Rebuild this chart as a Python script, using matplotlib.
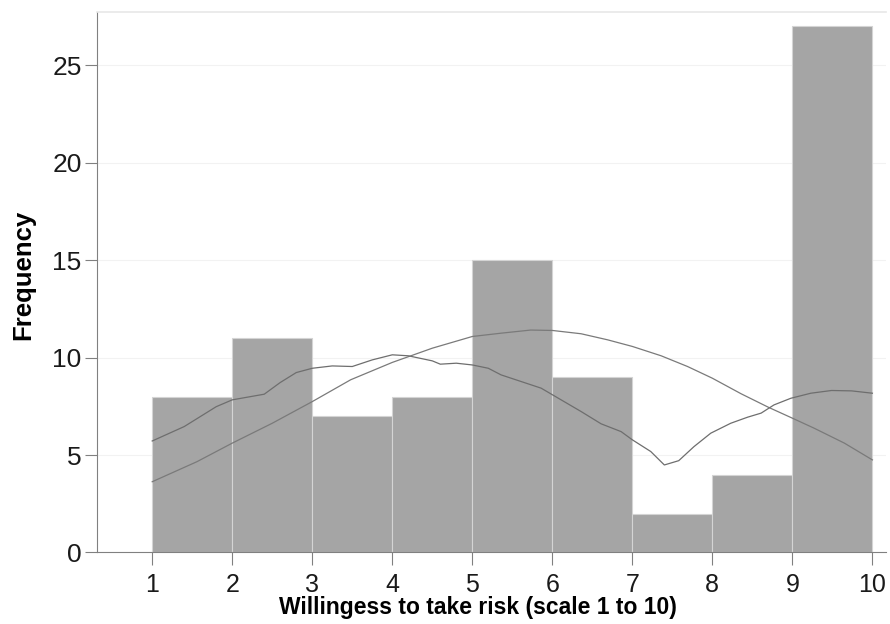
import matplotlib
matplotlib.use("Agg")
import matplotlib.pyplot as plt

plt.rcParams['font.family'] = ['Liberation Sans', 'DejaVu Sans']

# histogram of willingness scores (bin edges 1..10, width 1)
bin_edges = [1, 2, 3, 4, 5, 6, 7, 8, 9, 10]
counts = [8, 11, 7, 8, 15, 9, 2, 4, 27]

# normal density overlay
normal_x = [1.0, 1.56, 2.0, 2.5, 3.0, 3.48, 4.0, 4.5, 5.0, 5.36, 5.73, 6.0,
            6.36, 6.69, 7.0, 7.36, 7.69, 8.0, 8.36, 8.7, 9.0, 9.27, 9.65, 10.0]
normal_y = [3.63, 4.66, 5.61, 6.63, 7.74, 8.86, 9.75, 10.48, 11.08, 11.25, 11.41, 11.39,
            11.22, 10.91, 10.57, 10.09, 9.54, 8.94, 8.14, 7.45, 6.89, 6.38, 5.61, 4.75]

# kernel density overlay
kernel_x = [1.0, 1.4, 1.8, 2.0, 2.4, 2.6, 2.8, 3.0, 3.25, 3.5, 3.75, 4.0, 4.2, 4.5,
            4.6, 4.8, 5.0, 5.2, 5.36, 5.61, 5.86, 6.11, 6.36, 6.61, 6.86, 7.0, 7.23,
            7.4, 7.58, 7.77, 7.98, 8.23, 8.44, 8.61, 8.77, 8.98, 9.23, 9.49, 9.74, 10.0]
kernel_y = [5.72, 6.46, 7.48, 7.83, 8.12, 8.72, 9.23, 9.45, 9.57, 9.54, 9.88, 10.14, 10.09, 9.83,
            9.66, 9.71, 9.62, 9.45, 9.11, 8.77, 8.43, 7.83, 7.23, 6.60, 6.20, 5.78, 5.18,
            4.49, 4.71, 5.43, 6.12, 6.63, 6.94, 7.15, 7.57, 7.91, 8.17, 8.31, 8.29, 8.17]

yticks = [0, 5, 10, 15, 20, 25]

fig = plt.figure(figsize=(8.9, 6.24), dpi=100)
ax = fig.add_axes([0.109, 0.1146, 0.8865, 0.866])

ax.bar(bin_edges[:-1], counts, width=1, align='edge', color='#a5a5a5',
       edgecolor='#d4d4d4', linewidth=0.8, zorder=2)
ax.plot(normal_x, normal_y, color='#7a7a7a', linewidth=0.9, zorder=3)
ax.plot(kernel_x, kernel_y, color='#6e6e6e', linewidth=0.9, zorder=3)

ax.set_xlim(0.31, 10.17)
ax.set_ylim(0, 27.72)
ax.set_xticks(bin_edges)
ax.set_yticks(yticks)
ax.yaxis.grid(True, color='#f2f2f2', linewidth=0.8, zorder=0)
ax.set_axisbelow(True)

ax.spines['right'].set_visible(False)
ax.spines['top'].set_color('#e8e8e8')
ax.spines['top'].set_linewidth(1.2)
ax.spines['left'].set_color('#808080')
ax.spines['bottom'].set_color('#808080')

ax.tick_params(axis='both', colors='#808080', length=9, width=0.8, labelcolor='#1a1a1a')
ax.tick_params(axis='y', labelsize=19, pad=2)
ax.tick_params(axis='x', labelsize=18, pad=6)

ax.set_xlabel('Willingess to take risk (scale 1 to 10)', fontsize=16.5, fontweight='bold', labelpad=0)
ax.xaxis.set_label_coords(0.483, -0.08)
ax.set_ylabel('Frequency', fontsize=18.5, fontweight='bold', labelpad=14)
ax.yaxis.set_label_coords(-0.078, 0.513)

fig.savefig('out.png', dpi=100)
